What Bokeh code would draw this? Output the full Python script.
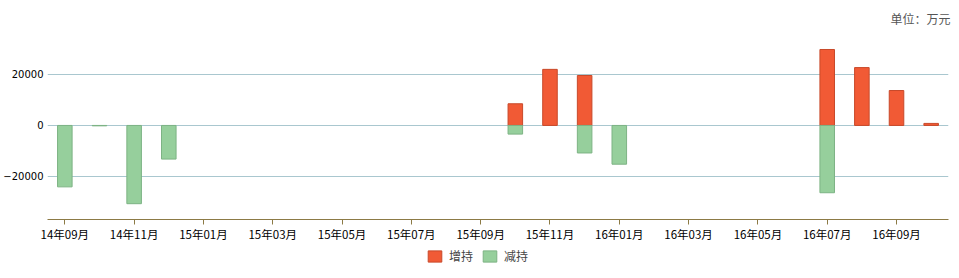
from bokeh.plotting import figure
from bokeh.layouts import column
from bokeh.models import (ColumnDataSource, Range1d, FixedTicker, Legend, LegendItem, Title)
from bokeh.embed import file_html
from bokeh.resources import INLINE

months = ["14年09月", "14年10月", "14年11月", "14年12月", "15年01月", "15年02月",
          "15年03月", "15年04月", "15年05月", "15年06月", "15年07月", "15年08月",
          "15年09月", "15年10月", "15年11月", "15年12月", "16年01月", "16年02月",
          "16年03月", "16年04月", "16年05月", "16年06月", "16年07月", "16年08月",
          "16年09月", "16年10月"]
increase = [None, None, None, None, None, None, None, None, None, None, None, None,
            None, 8500, 22000, 19600, None, None, None, None, None, None,
            29800, 22700, 13700, 800]
decrease = [-24100, -150, -30700, -13200, None, None, None, None, None, None, None, None,
            None, -3400, None, -10800, -15200, None, None, None, None, None,
            -26400, None, None, None]
series_names = ["增持", "减持"]
series_colors = ["#f15a35", "#96cf9c"]
series_edges = ["#c8492a", "#7db384"]
y_ticks = [-20000, 0, 20000]

inc_x = [i for i, v in enumerate(increase) if v is not None]
inc_v = [v for v in increase if v is not None]
dec_x = [i for i, v in enumerate(decrease) if v is not None]
dec_v = [v for v in decrease if v is not None]

p = figure(width=959, height=245, output_backend="svg", toolbar_location=None,
           x_range=Range1d(-0.5, len(months) - 0.5), y_range=Range1d(-36900, 37250),
           min_border_left=47, min_border_right=11, min_border_top=30, min_border_bottom=26)
p.outline_line_color = None
p.background_fill_color = "white"
p.border_fill_color = "white"

p.vbar(x="x", top="top", bottom=0, width=0.42, source=ColumnDataSource(dict(x=inc_x, top=inc_v)),
       fill_color=series_colors[0], line_color=series_edges[0], line_width=1)
p.vbar(x="x", top="top", bottom=0, width=0.42, source=ColumnDataSource(dict(x=dec_x, top=dec_v)),
       fill_color=series_colors[1], line_color=series_edges[1], line_width=1)

p.xgrid.visible = False
p.ygrid.ticker = FixedTicker(ticks=y_ticks)
p.ygrid.grid_line_color = "#a9c7cf"
p.ygrid.grid_line_width = 1

p.yaxis.ticker = FixedTicker(ticks=y_ticks)
p.yaxis.axis_line_color = None
p.yaxis.major_tick_line_color = None
p.yaxis.major_tick_in = 0
p.yaxis.major_tick_out = 0
p.yaxis.minor_tick_line_color = None
p.yaxis.major_label_text_font = "DejaVu Sans"
p.yaxis.major_label_text_font_size = "10px"
p.yaxis.major_label_text_color = "#000000"
p.yaxis.major_label_standoff = 4

tick_idx = list(range(0, len(months), 2))
p.xaxis.ticker = FixedTicker(ticks=tick_idx)
p.xaxis.major_label_overrides = {i: months[i] for i in tick_idx}
p.xaxis.axis_line_color = "#8c7a45"
p.xaxis.major_tick_line_color = "#8c7a45"
p.xaxis.major_tick_in = 0
p.xaxis.major_tick_out = 5
p.xaxis.minor_tick_line_color = None
p.xaxis.major_label_text_font = "Noto Sans CJK SC"
p.xaxis.major_label_text_font_size = "11.5px"
p.xaxis.major_label_text_color = "#000000"
p.xaxis.major_label_standoff = 1

p.add_layout(Title(text="单位：万元", align="right", text_font="Noto Sans CJK SC",
                   text_font_size="12px", text_font_style="normal", text_color="#555555",
                   standoff=8, offset=-2), "above")

# legend strip below the chart (swatch glyphs sit outside the strip's visible range)
p2 = figure(width=959, height=33, output_backend="svg", toolbar_location=None,
            x_axis_type=None, y_axis_type=None, min_border=0,
            x_range=Range1d(0, 1), y_range=Range1d(0, 1))
p2.outline_line_color = None
p2.xgrid.visible = False
p2.ygrid.visible = False
lr = []
for c, e in zip(series_colors, series_edges):
    lr.append(p2.vbar(x="x", top="top", bottom="bottom", width=0.1,
                      source=ColumnDataSource(dict(x=[-5], top=[-5], bottom=[-6])),
                      fill_color=c, line_color=e))
legend = Legend(items=[LegendItem(label=n, renderers=[r]) for n, r in zip(series_names, lr)],
                orientation="horizontal", location=(379, 14),
                glyph_width=17, glyph_height=14, label_text_font="Noto Sans CJK SC",
                label_text_font_size="12px", label_standoff=6, spacing=8, padding=0,
                margin=0, border_line_alpha=0, background_fill_alpha=0,
                label_height=14)
p2.add_layout(legend, "center")

open("out.html", "w").write(file_html(column(p, p2), INLINE))
